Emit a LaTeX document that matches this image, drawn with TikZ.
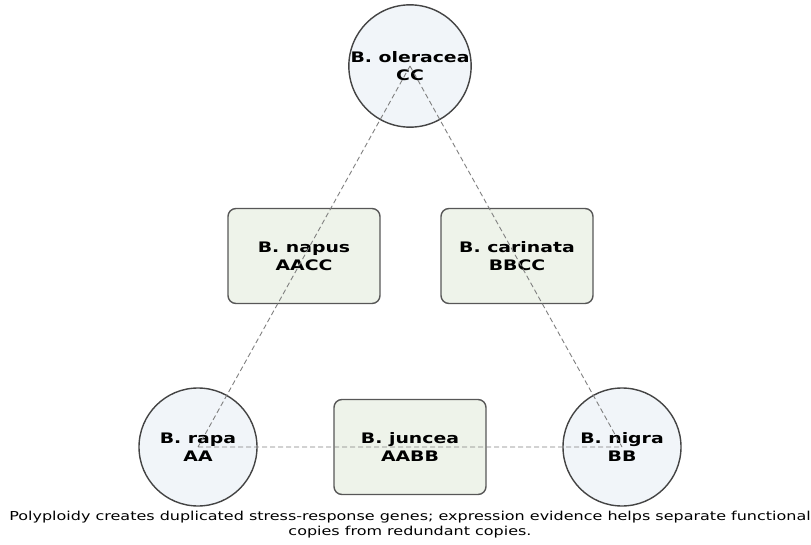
\documentclass[tikz,border=0pt]{standalone}
\usepackage{fontspec}
\setmainfont{DejaVu Sans}
\newfontfamily\widefont[FakeStretch=1.3]{DejaVu Sans}
\usetikzlibrary{positioning}

\definecolor{speciesfill}{HTML}{F1F5F9}
\definecolor{hybridfill}{HTML}{EEF3EA}
\definecolor{rimcolor}{HTML}{444444}
\definecolor{linkcolor}{HTML}{808080}

\begin{document}
\begin{tikzpicture}[x=1pt,y=-1pt,node distance=212pt,
                    every node/.style={align=center,font=\widefont\fontsize{14.5}{18}\selectfont\bfseries}]
  \tikzset{species/.style={circle,minimum size=118pt,inner sep=0pt,fill=speciesfill,draw=rimcolor,line width=1.4pt},
           hybrid/.style={rectangle,rounded corners=8pt,minimum width=152pt,minimum height=95pt,
                          fill=hybridfill,draw=rimcolor!90,line width=1.4pt},
           link/.style={draw=linkcolor,dash pattern=on 5pt off 3pt,line width=0.9pt}}
  \useasboundingbox (0,0) rectangle (811,545);

  \node[species] (R) at (198,447)  {B. rapa\\AA};
  \node[hybrid]  (J) [right of=R]  {B. juncea\\AABB};
  \node[species] (N) [right of=J]  {B. nigra\\BB};
  \node[species] (O) at (410,66)   {B. oleracea\\CC};
  \node[hybrid]  (P) at (304,256)  {B. napus\\AACC};
  \node[hybrid]  (K) at (517,256)  {B. carinata\\BBCC};

  \path[link] (O.center) -- (R.center)
              (O.center) -- (N.center)
              (R.center) -- (N.center);

  \node[font=\widefont\fontsize{12.3}{15}\selectfont] (caption) at (410,525)
    {Polyploidy creates duplicated stress-response genes; expression evidence helps separate functional\\copies from redundant copies.};
\end{tikzpicture}
\end{document}
